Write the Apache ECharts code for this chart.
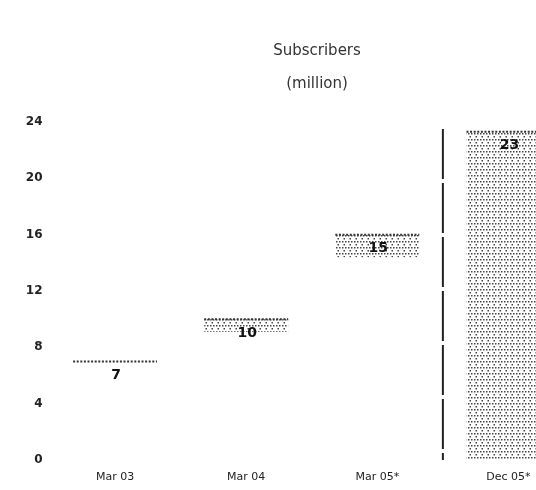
<!DOCTYPE html>
<html>
<head>
<meta charset="utf-8">
<script src="https://cdn.jsdelivr.net/npm/echarts@6/dist/echarts.min.js"></script>
<style>
  html, body { margin: 0; padding: 0; background: #fff; }
  #chart { width: 536px; height: 490px; }
</style>
</head>
<body>
<div id="chart"></div>
<script>
// data
const categories = ['Mar 03', 'Mar 04', 'Mar 05*', 'Dec 05*'];
const bandLow = [7, 9.1, 14.4, 0];
const bandHigh = [7, 10, 16, 23.3];
const valueLabels = ['7', '10', '15', '23'];
const yTicks = [0, 4, 8, 12, 16, 20, 24];
const dividerBefore = 3;     // dashed line sits before this category
const dividerTop = 23.5;

// dotted fill
function makePattern() {
    const c = document.createElement('canvas');
    c.width = 6;
    c.height = 6;
    const ctx = c.getContext('2d');
    ctx.fillStyle = '#444';
    ctx.fillRect(0, 1, 1.5, 1.5);
    ctx.fillRect(3, 1, 1.5, 1.5);
    ctx.fillRect(1.5, 4, 1.5, 1.5);
    return { image: c, repeat: 'repeat' };
}
const pattern = makePattern();

let myChart = echarts.init(document.getElementById('chart'));

function renderItem(params, api) {
    const idx = api.value(0);
    const lo = api.coord([idx, api.value(1)]);
    const hi = api.coord([idx, api.value(2)]);
    const bw = api.size([1, 0])[0];
    const w = bw * 0.64;
    const children = [];
    if (lo[1] - hi[1] > 0.5) {
        children.push({
            type: 'rect',
            shape: { x: hi[0] - w / 2, y: hi[1], width: w, height: lo[1] - hi[1] },
            style: { fill: pattern }
        });
    }
    children.push({
        type: 'line',
        shape: { x1: hi[0] - w / 2, y1: hi[1], x2: hi[0] + w / 2, y2: hi[1] },
        style: { stroke: '#333', lineWidth: 2, lineDash: [2, 1.6] }
    });
    children.push({
        type: 'text',
        x: hi[0] + 1,
        y: hi[1] + 14,
        style: {
            text: valueLabels[params.dataIndex],
            font: 'bold 14px "DejaVu Sans"',
            fill: '#111',
            align: 'center',
            verticalAlign: 'middle'
        }
    });
    if (idx === dividerBefore) {
        const base = api.coord([idx, 0]);
        const top = api.coord([idx, dividerTop]);
        const x = base[0] - bw / 2;
        children.push({
            type: 'line',
            shape: { x1: x, y1: top[1], x2: x, y2: base[1] },
            style: { stroke: '#222', lineWidth: 2, lineDash: [50, 4] }
        });
    }
    return { type: 'group', children: children };
}

const option = {
    animation: false,
    backgroundColor: '#fff',
    title: {
        text: 'Subscribers\n(million)',
        left: 312,
        top: 30,
        textAlign: 'center',
        textStyle: {
            fontFamily: 'DejaVu Sans',
            fontSize: 15,
            fontWeight: 'normal',
            color: '#333',
            lineHeight: 33
        }
    },
    grid: {
        left: 49.5,
        right: -38,
        top: 122,
        bottom: 30,
        outerBoundsMode: 'none'
    },
    xAxis: {
        type: 'category',
        data: categories,
        axisLine: { show: false },
        axisTick: { show: false },
        axisLabel: {
            margin: 12,
            fontFamily: 'DejaVu Sans',
            fontSize: 11,
            color: '#222'
        }
    },
    yAxis: {
        type: 'value',
        min: yTicks[0],
        max: yTicks[yTicks.length - 1],
        interval: 4,
        splitLine: { show: false },
        axisLine: { show: false },
        axisTick: { show: false },
        axisLabel: {
            margin: 7,
            fontFamily: 'DejaVu Sans',
            fontSize: 12,
            fontWeight: 'bold',
            color: '#222'
        }
    },
    series: [
        {
            type: 'custom',
            renderItem: renderItem,
            clip: false,
            encode: { x: 0, y: [1, 2] },
            data: categories.map((c, i) => [i, bandLow[i], bandHigh[i]])
        }
    ]
};

myChart.setOption(option);
</script>
</body>
</html>
